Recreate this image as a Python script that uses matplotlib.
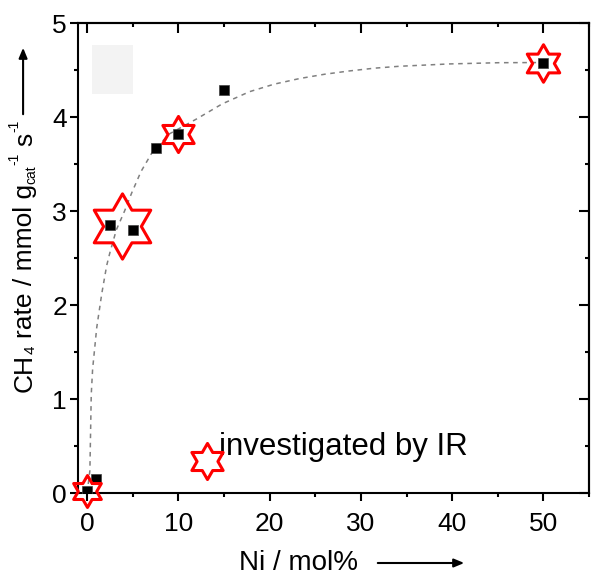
import numpy as np
import matplotlib
matplotlib.use('Agg')
import matplotlib.pyplot as plt
from matplotlib.ticker import MultipleLocator
from matplotlib.patches import Rectangle, FancyArrowPatch
from matplotlib.path import Path
from matplotlib.transforms import IdentityTransform

plt.rcParams['font.family'] = ['Liberation Sans', 'DejaVu Sans']

# measured CH4 rate vs Ni loading
ni = [0, 1, 2.5, 5, 7.5, 10, 15, 50]
rate = [0.02, 0.15, 2.85, 2.80, 3.67, 3.82, 4.29, 4.57]

# samples investigated by IR (red stars)
ir_x = [0, 3.8, 10, 50]
ir_y = [0.02, 2.84, 3.82, 4.57]
ir_ms = [23, 47, 26, 27]  # marker sizes

# guide-to-the-eye curve
fit_x = [0, 0.3, 0.45, 0.6, 1.05, 1.6, 2.14, 2.5, 3.2, 4.1, 4.87, 5.9, 7.1,
         9.0, 12.0, 14.8, 17.8, 20.5, 23.3, 26.0, 28.7, 31.5, 34.2, 39.7, 45.1, 50]
fit_y = [0, 0.24, 1.05, 1.32, 1.76, 2.12, 2.42, 2.56, 2.80, 3.0, 3.19, 3.42,
         3.62, 3.82, 3.98, 4.14, 4.27, 4.35, 4.41, 4.455, 4.49, 4.52, 4.54,
         4.565, 4.578, 4.58]

# y label pieces: text, fontsize, shift (px, + = down), gap before (px)
ylab_parts = [('CH', 19, 0, 0), ('4', 11, 3, 0), ('rate / mmol g', 19, 0, 7),
              ('cat', 10, 3, 0), ('-1', 10, -14, 1), ('s', 19, 0, 6), ('-1', 10, -14, 1)]

# hexagram (star of David) marker
ang_out = np.deg2rad(90 + 60 * np.arange(6))
ang_in = ang_out + np.deg2rad(30)
verts = []
for a, b in zip(ang_out, ang_in):
    verts.append((np.cos(a), np.sin(a)))
    verts.append((np.cos(b) / np.sqrt(3), np.sin(b) / np.sqrt(3)))
verts.append(verts[0])
hexagram = Path(verts, closed=True)

fig = plt.figure(figsize=(5.92, 5.79), dpi=100)
ax = fig.add_axes([0.1318, 0.1485, 0.8632, 0.8117])

ax.plot(fit_x, fit_y, ls=(0, (3, 3)), color='#808080', lw=1.1, zorder=1)
ax.plot(ni, rate, 's', color='black', ms=7.5, mec='#404040', mew=0.5, zorder=3)
for x, y, s in zip(ir_x, ir_y, ir_ms):
    ax.plot(x, y, marker=hexagram, ms=s, mfc='none', mec='red', mew=2.2,
            ls='none', clip_on=False, zorder=4)

# legend-like annotation
ax.plot(13.1, 0.34, marker=hexagram, ms=26, mfc='none', mec='red', mew=2.2,
        ls='none', zorder=4)
ax.text(14.4, 0.40, 'investigated by IR', fontsize=22.5, va='baseline', ha='left')

# faint grey box at top-left
ax.add_patch(Rectangle((0.55, 4.24), 4.45, 0.53, facecolor='#f3f3f3',
                       edgecolor='none', zorder=0))

ax.set_xlim(-1, 55)
ax.set_ylim(0, 5)
ax.xaxis.set_major_locator(MultipleLocator(10))
ax.xaxis.set_minor_locator(MultipleLocator(5))
ax.yaxis.set_major_locator(MultipleLocator(1))
ax.yaxis.set_minor_locator(MultipleLocator(0.5))

for sp in ax.spines.values():
    sp.set_linewidth(1.5)

ax.tick_params(which='major', direction='out', length=6, width=1.5, labelsize=19)
ax.tick_params(which='minor', direction='out', length=3, width=1.5)
ax.tick_params(axis='x', pad=8)
ax.tick_params(axis='y', pad=2)

top = ax.secondary_xaxis('top')
top.xaxis.set_major_locator(MultipleLocator(10))
top.xaxis.set_minor_locator(MultipleLocator(5))
top.tick_params(which='major', direction='in', length=7, width=1.5, labeltop=False)
top.tick_params(which='minor', direction='in', length=3, width=1.5)
top.spines['top'].set_linewidth(1.5)

right = ax.secondary_yaxis('right')
right.yaxis.set_major_locator(MultipleLocator(1))
right.yaxis.set_minor_locator(MultipleLocator(0.5))
right.tick_params(which='major', direction='in', length=7, width=1.5, labelright=False)
right.tick_params(which='minor', direction='in', length=3, width=1.5)
right.spines['right'].set_linewidth(1.5)

# y label built from pieces so sub/superscripts stay small
renderer = fig.canvas.get_renderer()
base_x = 32
cur_y = 579 - 392
for txt, fs, shift, gap in ylab_parts:
    cur_y += gap
    t = fig.text(base_x + shift, cur_y, txt, fontsize=fs, rotation=90,
                 rotation_mode='anchor', ha='left', va='baseline',
                 transform=IdentityTransform())
    cur_y += t.get_window_extent(renderer).height

fig.text(0.504, 0.015, 'Ni / mol%', fontsize=20, ha='center', va='baseline')
fig.add_artist(FancyArrowPatch(
    (0.039, 1 - 117 / 579), (0.039, 1 - 45 / 579), transform=fig.transFigure,
    arrowstyle='-|>,head_length=6,head_width=2.5', lw=1.5, color='black'))
fig.add_artist(FancyArrowPatch(
    (375 / 592, 1 - 563 / 579), (467 / 592, 1 - 563 / 579), transform=fig.transFigure,
    arrowstyle='-|>,head_length=6,head_width=2.5', lw=1.5, color='black'))

fig.savefig('out.png', dpi=100)
